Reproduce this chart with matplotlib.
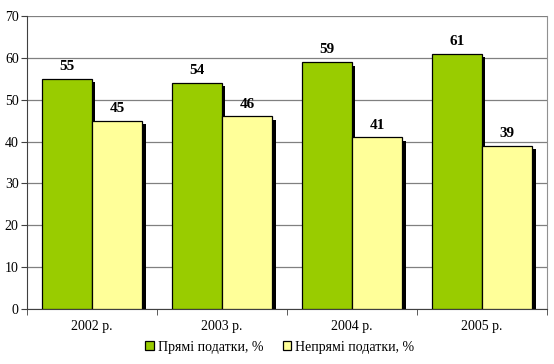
import numpy as np
import matplotlib.pyplot as plt
import matplotlib.patheffects as pe

years = ["2002 р.", "2003 р.", "2004 р.", "2005 р."]
direct = [55, 54, 59, 61]
indirect = [45, 46, 41, 39]
series_names = ["Прямі податки, %", "Непрямі податки, %"]

plt.rcParams['font.family'] = ['Liberation Serif', 'DejaVu Serif']

fig = plt.figure(figsize=(5.54, 3.64), dpi=100)
ax = fig.add_axes([27/554, 1 - 309/364, 520/554, 293/364])

x = np.arange(len(years))
w = 0.385
shadow = [pe.SimplePatchShadow(offset=(2.5, -2.5), shadow_rgbFace='black', alpha=1), pe.Normal()]

b1 = ax.bar(x - w/2, direct, w, color='#99CC00', edgecolor='black', linewidth=0.9,
            label=series_names[0], zorder=3, path_effects=shadow)
b2 = ax.bar(x + w/2, indirect, w, color='#FFFF99', edgecolor='black', linewidth=0.9,
            label=series_names[1], zorder=3, path_effects=shadow)

for bars, vals in [(b1, direct), (b2, indirect)]:
    for r, v in zip(bars, vals):
        ax.annotate(str(v), (r.get_x() + r.get_width()/2, v), xytext=(0, 4),
                    textcoords='offset points', ha='center', va='bottom',
                    fontsize=11, fontweight='bold')

ax.set_xlim(-0.5, len(years) - 0.5)
ax.set_ylim(0, 70)
ax.set_yticks(range(0, 71, 10))
ax.set_xticks(x)
ax.set_xticklabels(years, fontsize=10)
ax.set_xticks(np.arange(-0.5, len(years)), minor=True)
ax.tick_params(axis='x', which='major', length=0, pad=8)
ax.tick_params(axis='x', which='minor', length=4, color='#404040')
ax.tick_params(axis='y', length=4, labelsize=10, color='#404040', pad=2)
ax.yaxis.grid(True, color='#808080', linewidth=0.9, zorder=0)
ax.set_axisbelow(True)

for s in ['left', 'bottom']:
    ax.spines[s].set_color('#404040')
ax.spines['right'].set_color('#909090')
ax.spines['top'].set_visible(False)

leg = fig.legend(handles=[b1, b2], loc='center', bbox_to_anchor=(280/554, 1 - 347/364),
                 ncol=2, frameon=False, fontsize=10, handlelength=0.6, handleheight=0.6,
                 handletextpad=0.3, columnspacing=1.4)
for h in leg.legend_handles:
    h.set_path_effects([])

fig.savefig("out.png", dpi=100)
